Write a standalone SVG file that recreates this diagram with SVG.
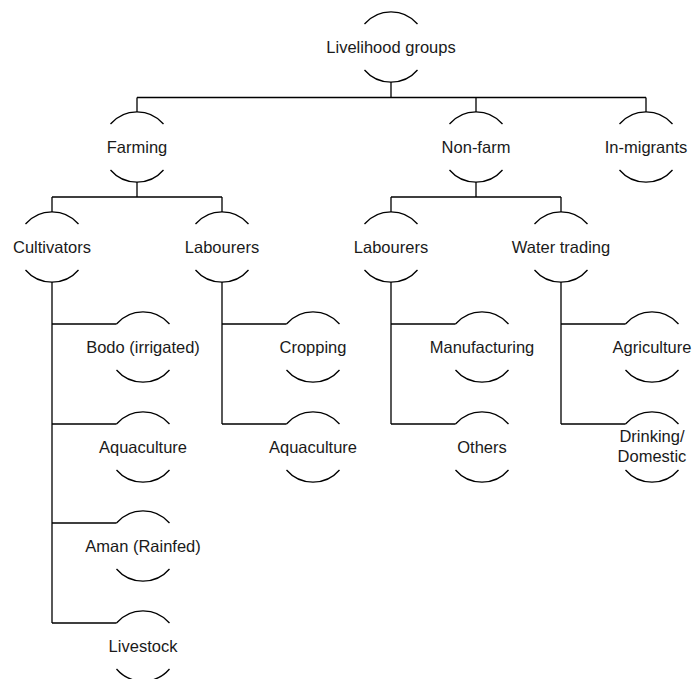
<svg xmlns="http://www.w3.org/2000/svg" width="693" height="679" viewBox="0 0 693 679">
<style>
  .arc{fill:none;stroke:#000;stroke-width:1.3}
  .ln{fill:none;stroke:#000;stroke-width:1.3}
  text{font-family:"Liberation Sans",Arial,sans-serif;font-size:16.5px;fill:#1a1a1a;text-anchor:middle}
</style>
<defs>
  <g id="shape">
    <path class="arc" d="M-26.5,-23 A35,35 0 0 1 26.5,-23"/>
    <path class="arc" d="M-26.5,23 A35,35 0 0 0 26.5,23"/>
  </g>
</defs>
<g id="connectors">
  <path class="ln" d="M391,82 V97.5 M137,97.5 H646 M137,97.5 V112 M476,97.5 V112 M646,97.5 V112"/>
  <path class="ln" d="M137,182 V197 M52,197 H222 M52,197 V212 M222,197 V212"/>
  <path class="ln" d="M476,182 V197 M391,197 H561 M391,197 V212 M561,197 V212"/>
  <path class="ln" d="M52,282 V623 M52,324 H116.5 M52,424 H116.5 M52,523 H116.5 M52,623 H116.5"/>
  <path class="ln" d="M222,282 V424 M222,324 H286.5 M222,424 H286.5"/>
  <path class="ln" d="M391,282 V424 M391,324 H455.5 M391,424 H455.5"/>
  <path class="ln" d="M561,282 V424 M561,324 H625.5 M561,424 H625.5"/>
</g>
<g id="n-root"><use href="#shape" x="391" y="47"/><text x="391" y="53">Livelihood groups</text></g>
<g id="n-farming"><use href="#shape" x="137" y="147"/><text x="137" y="153">Farming</text></g>
<g id="n-nonfarm"><use href="#shape" x="476" y="147"/><text x="476" y="153">Non-farm</text></g>
<g id="n-inmigrants"><use href="#shape" x="646" y="147"/><text x="646" y="153">In-migrants</text></g>
<g id="n-cultivators"><use href="#shape" x="52" y="247"/><text x="52" y="253">Cultivators</text></g>
<g id="n-labourers-farm"><use href="#shape" x="222" y="247"/><text x="222" y="253">Labourers</text></g>
<g id="n-labourers-nonfarm"><use href="#shape" x="391" y="247"/><text x="391" y="253">Labourers</text></g>
<g id="n-water-trading"><use href="#shape" x="561" y="247"/><text x="561" y="253">Water trading</text></g>
<g id="n-bodo"><use href="#shape" x="143" y="347"/><text x="143" y="353">Bodo (irrigated)</text></g>
<g id="n-aquaculture-c"><use href="#shape" x="143" y="447"/><text x="143" y="453">Aquaculture</text></g>
<g id="n-aman"><use href="#shape" x="143" y="546"/><text x="143" y="552">Aman (Rainfed)</text></g>
<g id="n-livestock"><use href="#shape" x="143" y="646"/><text x="143" y="652">Livestock</text></g>
<g id="n-cropping"><use href="#shape" x="313" y="347"/><text x="313" y="353">Cropping</text></g>
<g id="n-aquaculture-l"><use href="#shape" x="313" y="447"/><text x="313" y="453">Aquaculture</text></g>
<g id="n-manufacturing"><use href="#shape" x="482" y="347"/><text x="482" y="353">Manufacturing</text></g>
<g id="n-others"><use href="#shape" x="482" y="447"/><text x="482" y="453">Others</text></g>
<g id="n-agriculture"><use href="#shape" x="652" y="347"/><text x="652" y="353">Agriculture</text></g>
<g id="n-drinking"><use href="#shape" x="652" y="447"/><text x="652" y="442">Drinking/</text><text x="652" y="462">Domestic</text></g>
</svg>
